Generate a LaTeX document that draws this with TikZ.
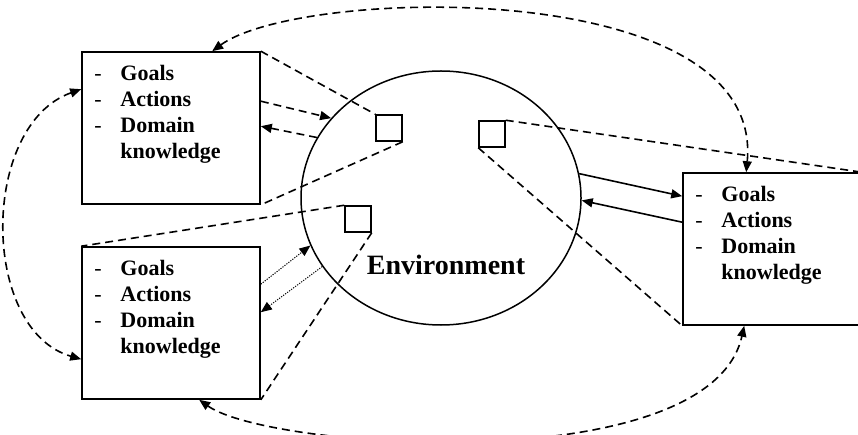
\documentclass[tikz,border=0pt]{standalone}
\usepackage{fontspec}
\setmainfont{Liberation Serif}
\usetikzlibrary{arrows.meta, shapes.geometric, positioning}

\newcommand{\agentlist}{%
  \begin{tabular}[t]{@{}p{26pt}@{}l@{}}
    \mdseries - & Goals\\
    \mdseries - & Actions\\
    \mdseries - & Domain\\
                & knowledge
  \end{tabular}}

\begin{document}
\begin{tikzpicture}[x=1pt, y=-1pt,
    agentbox/.style={draw, line width=1.6pt, minimum width=178pt, minimum height=152pt, inner sep=0pt},
    itemtext/.style={inner sep=0pt, font=\fontsize{22}{26}\selectfont\bfseries},
    spot/.style={draw, line width=1.5pt, minimum size=26pt, inner sep=0pt},
    dashlink/.style={line width=1.6pt, dash pattern=on 8pt off 5pt},
    dotlink/.style={line width=1pt, dash pattern=on 1.2pt off 1.3pt},
    solidlink/.style={line width=1.6pt},
    arr/.style={-{Triangle[length=11pt,width=9pt]}},
    twoarr/.style={{Triangle[length=11pt,width=9pt]}-{Triangle[length=11pt,width=9pt]}}]
      \useasboundingbox (0,0) rectangle (858,435);

      % environment
      \node[draw, ellipse, line width=1.5pt, minimum width=280pt, minimum height=254pt, inner sep=0pt]
            (env) at (441,198) {};
      \node[anchor=base, font=\fontsize{28}{32}\selectfont\bfseries] (envname) at (446,275) {Environment};

      \foreach \name/\x/\y in {spotA/389/128, spotB/358/219, spotC/492/134}
        \node[spot] (\name) at (\x,\y) {};

      % agents
      \foreach \name/\x/\y in {agentA/171/128, agentB/171/323, agentC/772/249} {
        \node[agentbox] (\name) at (\x,\y) {};
        \node[itemtext, anchor=base west] (\name-list)
              at ([xshift=13pt, yshift=-29pt]\name.north west) {\agentlist};
      }

      % what each agent sees
      \draw[dashlink] (agentA.north east) -- (spotA.north west);
      \draw[dashlink] (spotA.south east) -- (agentA.south east);
      \draw[dashlink] (spotB.north west) -- (agentB.north west);
      \draw[dashlink] (spotB.south east) -- (agentB.south east);
      \draw[dashlink] (spotC.north east) -- (agentC.north east);
      \draw[dashlink] (spotC.south west) -- (agentC.south west);

      % acting on the environment
      \draw[dashlink, arr] ([yshift=-50pt]agentA.north east) -- (env.144);
      \draw[dashlink, arr] (env.154) -- ([yshift=-75pt]agentA.north east);
      \draw[dotlink, arr] ([yshift=-38pt]agentB.north east) -- (env.200);
      \draw[dotlink, arr] (env.210) -- ([yshift=-66pt]agentB.north east);
      \draw[solidlink, arr] (env.10) -- ([yshift=-24pt]agentC.north west);
      \draw[solidlink, arr] ([yshift=-50pt]agentC.north west) -- (env.359);

      % agents talking to each other
      \draw[dashlink, twoarr] ([xshift=131pt]agentA.north west)
            .. controls (300,-13) and (765,-25) .. ([xshift=64pt]agentC.north west);
      \draw[dashlink, twoarr] ([xshift=118pt]agentB.south west)
            .. controls (270,450) and (710,480) .. ([xshift=62pt]agentC.south west);
      \draw[dashlink, twoarr] ([yshift=-38pt]agentA.north west)
            .. controls (-20,125) and (-20,330) .. ([yshift=-113pt]agentB.north west);
    \end{tikzpicture}
\end{document}
